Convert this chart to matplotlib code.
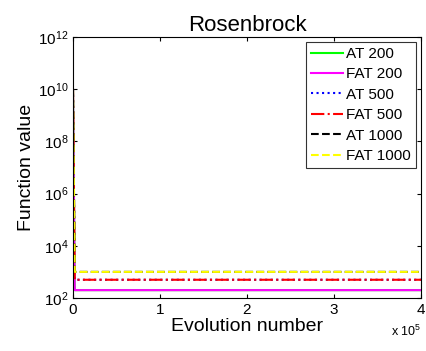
import matplotlib
matplotlib.use("Agg")
import matplotlib.pyplot as plt

plt.rcParams['font.family'] = ['Liberation Sans', 'DejaVu Sans']
plt.rcParams['mathtext.fontset'] = 'custom'
plt.rcParams['mathtext.rm'] = 'Liberation Sans'

# evolution number (x 10^5 on the axis) and best function value per run
evolutions = [0, 2000, 400000]
at_200 = [1e10, 200, 200]
fat_200 = [1e10, 200, 200]
at_500 = [1e10, 500, 500]
fat_500 = [1e10, 500, 500]
at_1000 = [1e10, 1000, 1000]
fat_1000 = [1e10, 1000, 1000]

series = [
    ("AT 200", at_200, "#00ff00", "-"),
    ("FAT 200", fat_200, "#ff00ff", "-"),
    ("AT 500", at_500, "#0000ff", ":"),
    ("FAT 500", fat_500, "#ff0000", "-."),
    ("AT 1000", at_1000, "#000000", "--"),
    ("FAT 1000", fat_1000, "#ffff00", "--"),
]

fig = plt.figure(figsize=(4.27, 3.51), dpi=100)
ax = fig.add_axes([73 / 427, 1 - 298 / 351, 348 / 427, 261 / 351])

for name, vals, col, ls in series:
    x = [e / 1e5 for e in evolutions]
    ax.plot(x, vals, color=col, linestyle=ls, linewidth=1.5, label=name)

ax.set_yscale('log')
ax.set_xlim(0, 4)
ax.set_ylim(1e2, 1e12)
ax.set_yticks([1e2, 1e4, 1e6, 1e8, 1e10, 1e12])
ax.minorticks_off()
ax.set_xticks([0, 1, 2, 3, 4])
ax.set_xticklabels(['0', '1', '2', '3', '4'])
ax.tick_params(direction='in', top=True, right=True, length=3, labelsize=11, width=0.8)

ax.set_title("Rosenbrock", fontsize=16, pad=4)
ax.set_xlabel("Evolution number", fontsize=14, labelpad=1)
ax.set_ylabel("Function value", fontsize=14, labelpad=2)
ax.text(1.0, -0.1, r"x 10$^5$", transform=ax.transAxes, fontsize=9, ha='right', va='top')

leg = ax.legend(loc='upper right', fontsize=11, frameon=True, fancybox=False,
                edgecolor='black', handlelength=2.1, borderaxespad=0.3,
                labelspacing=0.42, handletextpad=0.2, borderpad=0.35)
leg.get_frame().set_linewidth(0.8)

fig.savefig("out.png", dpi=100)
